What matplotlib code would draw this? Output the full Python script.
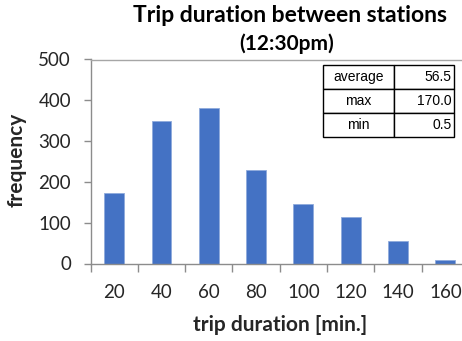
import matplotlib
matplotlib.use("Agg")
import matplotlib.pyplot as plt
import numpy as np

categories = ["20", "40", "60", "80", "100", "120", "140", "160"]
frequency = [172, 349, 382, 228, 146, 115, 56, 9]
stats_labels = ["average", "max", "min"]
stats_values = ["56.5", "170.0", "0.5"]
y_ticks = [0, 100, 200, 300, 400, 500]

DPI = 100
fig = plt.figure(figsize=(4.62, 3.41), dpi=DPI)
W, H = 462, 341
left, right, bottom, top = 90.5, 469.0, 263.5, 59.5
ax = fig.add_axes([left / W, 1 - bottom / H, (right - left) / W, (bottom - top) / H])

x = np.arange(len(categories))
ax.bar(x, frequency, width=0.42, color="#4472C4", edgecolor="#8FAADC", linewidth=0.6)

ax.set_xlim(-0.5, len(categories) - 0.5)
ax.set_ylim(0, 500)

spine_col = "#8C8C8C"
for s in ["left", "bottom", "top"]:
    ax.spines[s].set_color(spine_col)
    ax.spines[s].set_linewidth(1.0)
ax.spines["top"].set_color("#A6A6A6")
ax.spines["right"].set_visible(False)

font = "Lato"
tick_fs = 13.5
ax.set_yticks(y_ticks)
ax.set_yticklabels([str(v) for v in y_ticks], fontfamily=font, fontsize=tick_fs, color="#262626")
ax.tick_params(axis="y", direction="out", length=5, width=1.0, color=spine_col, pad=9)

ax.set_xticks(np.arange(len(categories) + 1) - 0.5)
ax.set_xticklabels([])
ax.tick_params(axis="x", which="major", direction="out", length=6, width=1.0, color=spine_col)
ax.set_xticks(x, minor=True)
ax.set_xticklabels(categories, minor=True, fontfamily=font, fontsize=tick_fs, color="#262626")
ax.tick_params(axis="x", which="minor", length=0, pad=15)

fig.text(17 / W, 1 - 160 / H, "frequency", rotation=90, ha="center", va="center",
         fontfamily=font, fontweight="bold", fontsize=15, color="#262626")
fig.text(280 / W, 1 - 325 / H, "trip duration [min.]", ha="center", va="center",
         fontfamily=font, fontweight="bold", fontsize=15, color="#262626")
fig.text(290 / W, 1 - 15 / H, "Trip duration between stations", ha="center", va="center",
         fontfamily=font, fontweight="bold", fontsize=16.5, color="#000000")
fig.text(287 / W, 1 - 44 / H, "(12:30pm)", ha="center", va="center",
         fontfamily=font, fontweight="bold", fontsize=15, color="#000000")

# statistics table
tx0, tx1, ty0, ty1 = 323.0, 454.0, 65.0, 137.0
tbl = ax.table(cellText=[[a, b] for a, b in zip(stats_labels, stats_values)],
               colWidths=[71 / 131, 60 / 131],
               bbox=[(tx0 - left) / (right - left), (bottom - ty1) / (bottom - top),
                     (tx1 - tx0) / (right - left), (ty1 - ty0) / (bottom - top)])
tbl.auto_set_font_size(False)
for (r, c), cell in tbl.get_celld().items():
    cell.set_edgecolor("black")
    cell.set_linewidth(1.0)
    cell.set_facecolor("white")
    t = cell.get_text()
    t.set_fontfamily("Liberation Sans")
    t.set_fontsize(10)
    if c == 0:
        t.set_ha("center")
        cell._loc = "center"
    else:
        cell._loc = "right"
        t.set_ha("right")
        cell.PAD = 0.04

fig.savefig("out.png", dpi=DPI)
